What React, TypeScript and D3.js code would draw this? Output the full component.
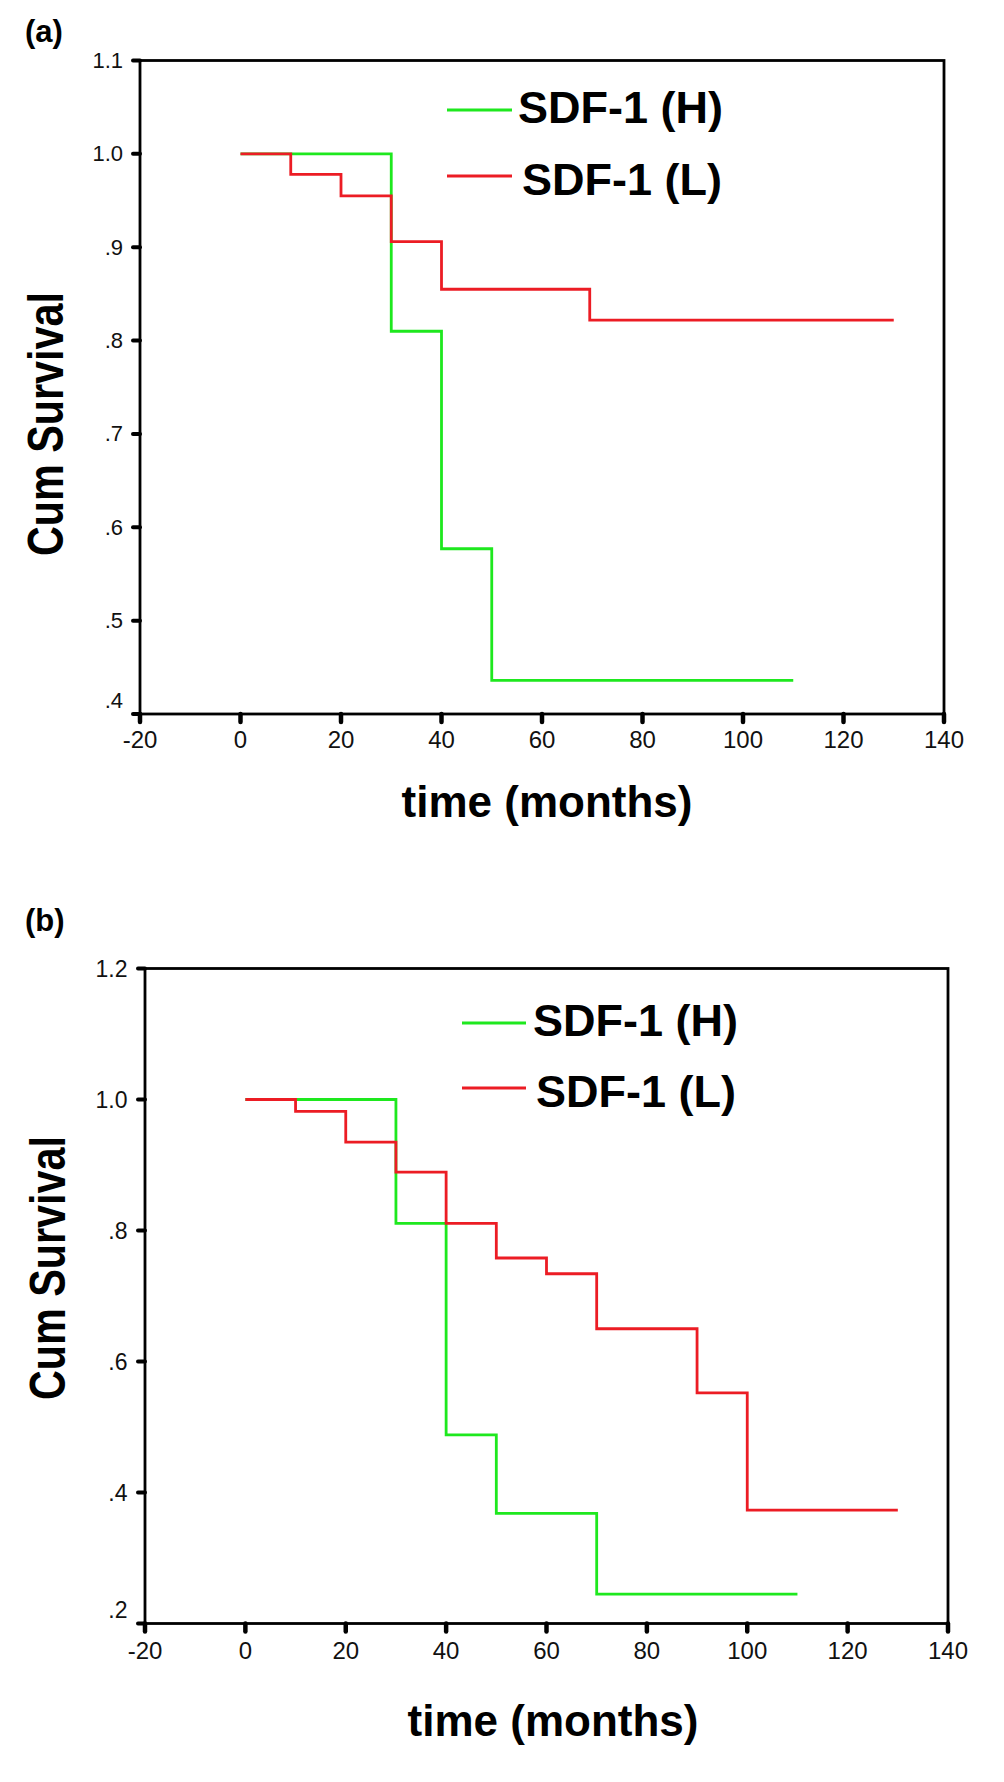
import React from "react";
import * as d3 from "d3";

// ---- data ----
const xTicks = [-20, 0, 20, 40, 60, 80, 100, 120, 140];

const yTicksA = [0.4, 0.5, 0.6, 0.7, 0.8, 0.9, 1.0, 1.1];
const yLabelsA = [".4", ".5", ".6", ".7", ".8", ".9", "1.0", "1.1"];
const yTicksB = [0.2, 0.4, 0.6, 0.8, 1.0, 1.2];
const yLabelsB = [".2", ".4", ".6", ".8", "1.0", "1.2"];

// panel (a)
const aHighTimes = [0, 30, 40, 50, 110];
const aHighSurv = [1.0, 0.81, 0.577, 0.436, 0.436];
const aLowTimes = [0, 10, 20, 30, 40, 69.5, 130];
const aLowSurv = [1.0, 0.978, 0.955, 0.906, 0.855, 0.822, 0.822];

// panel (b)
const bHighTimes = [0, 30, 40, 50, 70, 110];
const bHighSurv = [1.0, 0.811, 0.488, 0.368, 0.245, 0.245];
const bLowTimes = [0, 10, 20, 30, 40, 50, 60, 70, 90, 100, 130];
const bLowSurv = [1.0, 0.982, 0.935, 0.889, 0.811, 0.758, 0.734, 0.65, 0.552, 0.373, 0.373];

const seriesNames = ["SDF-1 (H)", "SDF-1 (L)"];
const GREEN = "#1ee81e";
const RED = "#ec1c24";
const FONT = "'Liberation Sans', Arial, Helvetica, sans-serif";

type PanelProps = {
  tag: string;
  left: number;
  right: number;
  top: number;
  bottom: number;
  yDomain: [number, number];
  yTicks: number[];
  yLabels: string[];
  yLabelRight: number;
  yLabelSize: number;
  xLabelBaseline: number;
  highT: number[];
  highS: number[];
  lowT: number[];
  lowS: number[];
  tagY: number;
  legend: { x1: number; x2: number; yH: number; yL: number; tH: number; tL: number; bH: number; bL: number };
  titleX: number;
  titleY: number;
  yTitleX: number;
  yTitleY: number;
};

function Panel(p: PanelProps) {
  const x = d3.scaleLinear().domain([-20, 140]).range([p.left, p.right]);
  const y = d3.scaleLinear().domain(p.yDomain).range([p.bottom, p.top]);
  const line = d3
    .line<[number, number]>()
    .x((d) => x(d[0]))
    .y((d) => y(d[1]))
    .curve(d3.curveStepAfter);
  const hi = line(p.highT.map((t, i) => [t, p.highS[i]] as [number, number])) || "";
  const lo = line(p.lowT.map((t, i) => [t, p.lowS[i]] as [number, number])) || "";

  return (
    <g fontFamily={FONT}>
      <text x={25} y={p.tagY} fontSize={31} fontWeight="bold">
        {p.tag}
      </text>
      {/* series */}
      <path d={hi} fill="none" stroke={GREEN} strokeWidth={2.8} />
      <path d={lo} fill="none" stroke={RED} strokeWidth={2.8} />
      {/* frame */}
      <rect
        x={p.left}
        y={p.top}
        width={p.right - p.left}
        height={p.bottom - p.top}
        fill="none"
        stroke="#000"
        strokeWidth={2.8}
      />
      {/* y ticks */}
      {p.yTicks.map((v, i) => (
        <g key={"y" + i}>
          <line x1={p.left - 7} x2={p.left} y1={y(v)} y2={y(v)} stroke="#000" strokeWidth={4} strokeLinecap="round" />
          <text
            x={p.yLabelRight}
            y={y(v) + (i === 0 ? -14 : 0)}
            fontSize={p.yLabelSize}
            textAnchor="end"
            dominantBaseline="central"
            fill="#111"
          >
            {p.yLabels[i]}
          </text>
        </g>
      ))}
      {/* x ticks */}
      {xTicks.map((v, i) => (
        <g key={"x" + i}>
          <line x1={x(v)} x2={x(v)} y1={p.bottom} y2={p.bottom + 8} stroke="#000" strokeWidth={4.5} strokeLinecap="round" />
          <text x={x(v)} y={p.xLabelBaseline} fontSize={24} textAnchor="middle" fill="#111">
            {v}
          </text>
        </g>
      ))}
      {/* legend */}
      <line x1={p.legend.x1} x2={p.legend.x2} y1={p.legend.yH} y2={p.legend.yH} stroke={GREEN} strokeWidth={2.8} />
      <text x={p.legend.tH} y={p.legend.bH} fontSize={45} fontWeight="bold">
        {seriesNames[0]}
      </text>
      <line x1={p.legend.x1} x2={p.legend.x2} y1={p.legend.yL} y2={p.legend.yL} stroke={RED} strokeWidth={2.8} />
      <text x={p.legend.tL} y={p.legend.bL} fontSize={45} fontWeight="bold">
        {seriesNames[1]}
      </text>
      {/* axis titles */}
      <text x={p.titleX} y={p.titleY} fontSize={44} fontWeight="bold" textAnchor="middle">
        time (months)
      </text>
      <text
        transform={`translate(${p.yTitleX},${p.yTitleY}) rotate(-90)`}
        fontSize={50}
        fontWeight="bold"
        textAnchor="middle"
        textLength={264}
        lengthAdjust="spacingAndGlyphs"
      >
        Cum Survival
      </text>
    </g>
  );
}

export default function App() {
  return (
    <svg
      width={1004}
      height={1782}
      viewBox="0 0 1004 1782"
      style={{ position: "absolute", left: 0, top: 0, background: "#fff" }}
    >
      <rect x={0} y={0} width={1004} height={1782} fill="#fff" />
      <Panel
        tag="(a)"
        tagY={41.5}
        left={140}
        right={944}
        top={60.5}
        bottom={714}
        yDomain={[0.4, 1.1]}
        yTicks={yTicksA}
        yLabels={yLabelsA}
        yLabelRight={123}
        yLabelSize={22}
        xLabelBaseline={748}
        highT={aHighTimes}
        highS={aHighSurv}
        lowT={aLowTimes}
        lowS={aLowSurv}
        legend={{ x1: 447, x2: 512, yH: 110, yL: 176, tH: 518, tL: 522, bH: 123, bL: 195 }}
        titleX={547}
        titleY={817}
        yTitleX={63}
        yTitleY={424}
      />
      <Panel
        tag="(b)"
        tagY={930.5}
        left={145}
        right={948}
        top={968.5}
        bottom={1623.5}
        yDomain={[0.2, 1.2]}
        yTicks={yTicksB}
        yLabels={yLabelsB}
        yLabelRight={127.5}
        yLabelSize={23}
        xLabelBaseline={1659}
        highT={bHighTimes}
        highS={bHighSurv}
        lowT={bLowTimes}
        lowS={bLowSurv}
        legend={{ x1: 462, x2: 526, yH: 1023, yL: 1088, tH: 533, tL: 536, bH: 1036, bL: 1107 }}
        titleX={553}
        titleY={1736}
        yTitleX={65}
        yTitleY={1268}
      />
    </svg>
  );
}
